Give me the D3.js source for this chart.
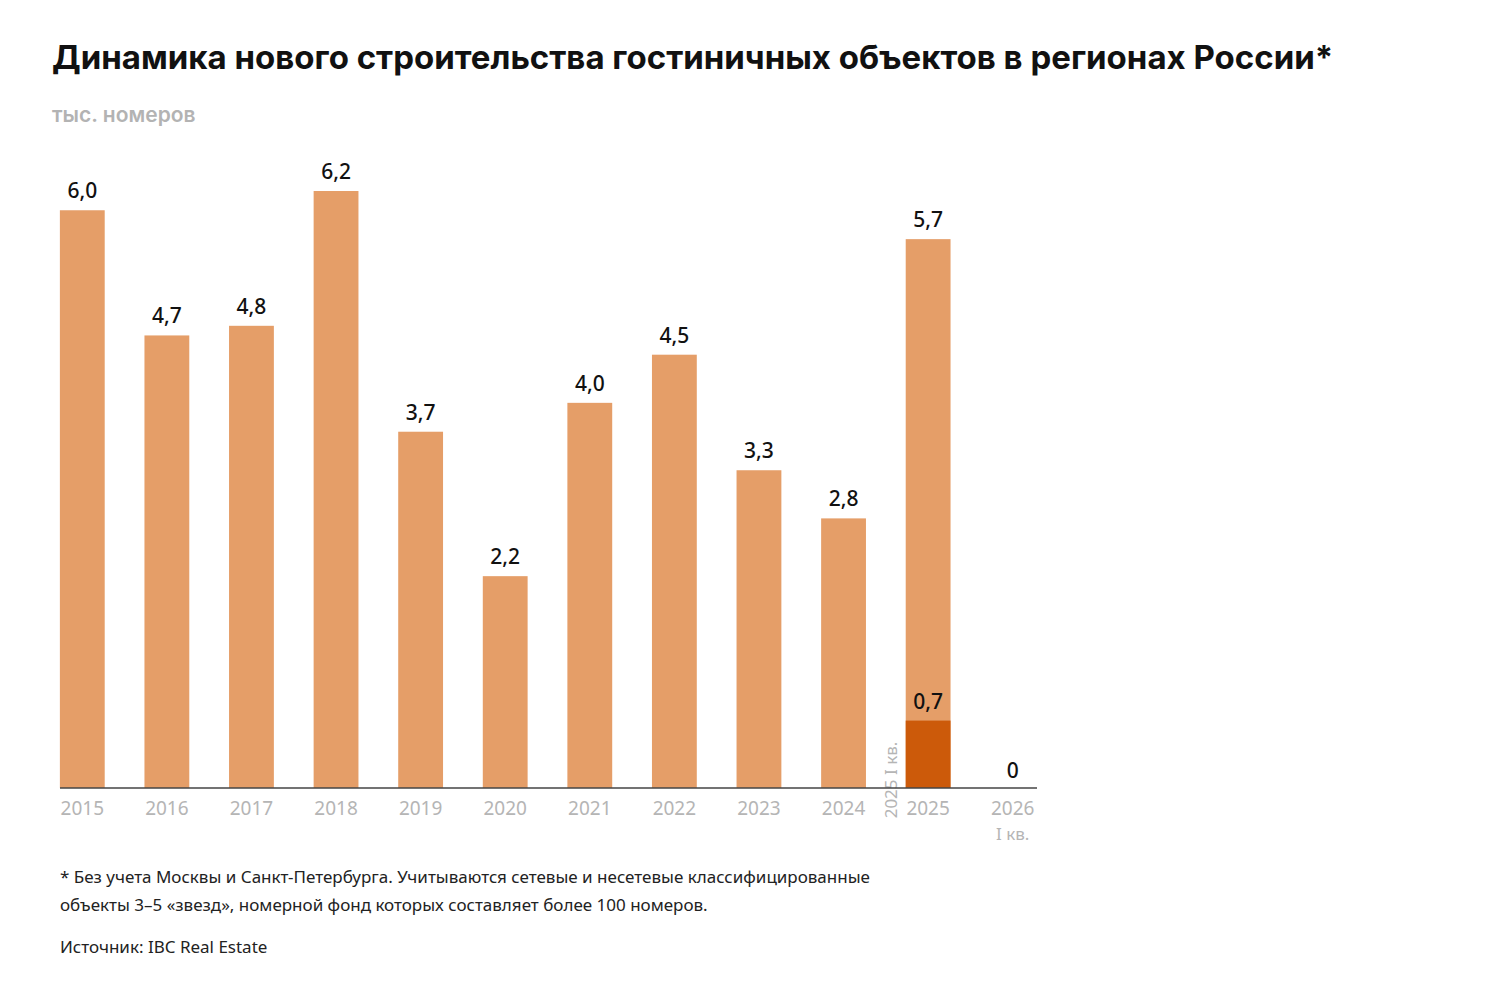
<!DOCTYPE html>
<html lang="ru">
<head>
<meta charset="UTF-8">
<title>Динамика нового строительства</title>
<style>
    body { margin: 0; background: #fff; font-family: "Noto Sans", sans-serif; }
    .title { font-family: Inter, "Noto Sans", sans-serif; font-weight: 700; font-size: 33px; fill: #111; }
    .sub { font-family: Inter, sans-serif; font-weight: 600; font-size: 21px; fill: #b3b3b3; }
    .val { font-size: 21px; font-weight: 500; fill: #111; text-anchor: middle; }
    .tick { font-size: 19px; fill: #b5b5b5; text-anchor: middle; }
    .note { font-size: 17px; fill: #222; }
</style>
</head>
<body>
<svg id="chart" width="1500" height="1008"></svg>
<script src="https://cdn.jsdelivr.net/npm/d3@7"></script>
<script>
    var years = ["2015","2016","2017","2018","2019","2020","2021","2022","2023","2024","2025","2026"];
    var values = [6.0, 4.7, 4.8, 6.2, 3.7, 2.2, 4.0, 4.5, 3.3, 2.8, 5.7, 0];
    var q1values = [null, null, null, null, null, null, null, null, null, null, 0.7, null];
    var subLabels = ["", "", "", "", "", "", "", "", "", "", "", "I кв."];

    var svg = d3.select("#chart");
    var base = 788;
    var x = d3.scaleBand().domain(years).range([40, 1055]).paddingInner(0.47).paddingOuter(0.235);
    var y = d3.scaleLinear().domain([0, 6.2]).range([base, 191]);
    var fmt = function(v){ return v === 0 ? "0" : v.toFixed(1).replace(".", ","); };

    svg.append("text").attr("class", "title").attr("x", 52).attr("y", 69)
        .text("Динамика нового строительства гостиничных объектов в регионах России*");
    svg.append("text").attr("class", "sub").attr("x", 52).attr("y", 122).text("тыс. номеров");

    var g = svg.append("g");
    years.forEach(function(yr, i){
        var v = values[i];
        if (v > 0) {
            g.append("rect").attr("x", x(yr)).attr("y", y(v)).attr("width", x.bandwidth())
                .attr("height", base - y(v)).attr("fill", "#e59e68");
        }
        if (q1values[i] != null) {
            g.append("rect").attr("x", x(yr)).attr("y", y(q1values[i])).attr("width", x.bandwidth())
                .attr("height", base - y(q1values[i])).attr("fill", "#cc5a0a");
            g.append("text").attr("class", "val").attr("x", x(yr) + x.bandwidth()/2)
                .attr("y", y(q1values[i]) - 12).text(fmt(q1values[i]));
            g.append("text").attr("class", "tick")
                .attr("transform", "translate(" + (x(yr) - 9) + "," + (base - 8) + ") rotate(-90)")
                .attr("text-anchor", "start").style("font-size", "17px")
                .text(yr + " I кв.");
        }
        g.append("text").attr("class", "val").attr("x", x(yr) + x.bandwidth()/2)
            .attr("y", y(v) - (v === 0 ? 10 : 12)).text(fmt(v));
        g.append("text").attr("class", "tick").attr("x", x(yr) + x.bandwidth()/2).attr("y", 815).text(yr);
        if (subLabels[i]) {
            g.append("text").attr("class", "tick").attr("x", x(yr) + x.bandwidth()/2).attr("y", 840)
                .style("font-size", "17px").text(subLabels[i]);
        }
    });
    svg.append("line").attr("x1", 60).attr("x2", 1037).attr("y1", base).attr("y2", base)
        .attr("stroke", "#444").attr("stroke-width", 1.5);

    svg.append("text").attr("class", "note").attr("x", 60).attr("y", 883)
        .text("* Без учета Москвы и Санкт-Петербурга. Учитываются сетевые и несетевые классифицированные");
    svg.append("text").attr("class", "note").attr("x", 60).attr("y", 911)
        .text("объекты 3–5 «звезд», номерной фонд которых составляет более 100 номеров.");
    svg.append("text").attr("class", "note").attr("x", 60).attr("y", 953).text("Источник: IBC Real Estate");
</script>
</body>
</html>
